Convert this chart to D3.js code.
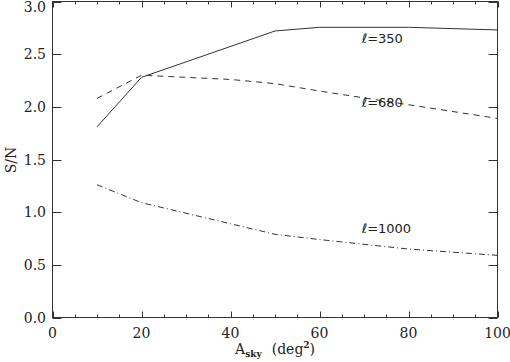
<!DOCTYPE html>
<html>
<head>
<meta charset="utf-8">
<script src="https://cdn.jsdelivr.net/npm/d3@7"></script>
<style>
  body { margin: 0; background: #fff; }
  svg { display: block; }
</style>
</head>
<body>
<div id="chart"></div>
<script>
// S/N vs sky area for three multipoles
const areas350 = [10, 20, 50, 60, 80, 100];
const sn350 = [1.81, 2.28, 2.72, 2.755, 2.755, 2.73];

const areas680 = [10, 20, 30, 40, 50, 60, 80, 100];
const sn680 = [2.08, 2.30, 2.28, 2.26, 2.22, 2.15, 2.02, 1.89];

const areas1000 = [10, 20, 30, 40, 50, 60, 80, 100];
const sn1000 = [1.26, 1.09, 0.99, 0.89, 0.79, 0.74, 0.65, 0.59];

const labels = ['\u2113=350', '\u2113=680', '\u2113=1000'];
const labelPos = [[69.5, 2.61], [69.5, 2.00], [69.5, 0.80]];

const xTicks = [0, 20, 40, 60, 80, 100];
const yTicks = [0.0, 0.5, 1.0, 1.5, 2.0, 2.5, 3.0];

const width = 510, height = 362;
const pLeft = 52.5, pRight = 497.5, pTop = 1.5, pBottom = 317.5;
const ink = '#333';

const svg = d3.select('#chart').append('svg')
    .attr('width', width)
    .attr('height', height);

const x = d3.scaleLinear().domain([0, 100]).range([pLeft, pRight]);
const y = d3.scaleLinear().domain([0, 3]).range([pBottom, pTop]);

// frame
svg.append('rect')
    .attr('x', pLeft).attr('y', pTop)
    .attr('width', pRight - pLeft).attr('height', pBottom - pTop)
    .attr('fill', 'none').attr('stroke', ink).attr('stroke-width', 1);

const minor = d3.range(0, 101, 5);

// x ticks bottom and top (inward)
svg.append('g').selectAll('line').data(minor).enter().append('line')
    .attr('x1', d => Math.round(x(d)) + 0.5).attr('x2', d => Math.round(x(d)) + 0.5)
    .attr('y1', pBottom).attr('y2', d => pBottom - (d % 20 === 0 ? 6 : 3))
    .attr('stroke', ink);
svg.append('g').selectAll('line').data(minor).enter().append('line')
    .attr('x1', d => Math.round(x(d)) + 0.5).attr('x2', d => Math.round(x(d)) + 0.5)
    .attr('y1', pTop).attr('y2', d => pTop + (d % 20 === 0 ? 6 : 3))
    .attr('stroke', ink);

// y ticks left and right (inward)
svg.append('g').selectAll('line').data(yTicks).enter().append('line')
    .attr('y1', d => Math.round(y(d)) + 0.5).attr('y2', d => Math.round(y(d)) + 0.5)
    .attr('x1', pLeft).attr('x2', pLeft + 9)
    .attr('stroke', ink);
svg.append('g').selectAll('line').data(yTicks).enter().append('line')
    .attr('y1', d => Math.round(y(d)) + 0.5).attr('y2', d => Math.round(y(d)) + 0.5)
    .attr('x1', pRight).attr('x2', pRight - 9)
    .attr('stroke', ink);

// tick labels
svg.append('g').selectAll('text').data(xTicks).enter().append('text')
    .attr('x', d => x(d)).attr('y', 338)
    .attr('text-anchor', 'middle')
    .attr('font-family', 'DejaVu Serif').attr('font-size', 14)
    .attr('fill', '#222')
    .text(d => d);

svg.append('g').selectAll('text').data(yTicks).enter().append('text')
    .attr('x', 46).attr('y', d => Math.max(y(d), 7))
    .attr('dy', '0.36em')
    .attr('text-anchor', 'end')
    .attr('font-family', 'DejaVu Serif').attr('font-size', 14)
    .attr('fill', '#222')
    .text(d => d.toFixed(1));

// axis titles
svg.append('text')
    .attr('transform', 'translate(16,160) rotate(-90)')
    .attr('text-anchor', 'middle')
    .attr('font-family', 'DejaVu Serif').attr('font-size', 14)
    .attr('fill', '#222')
    .text('S/N');

const xt = svg.append('text')
    .attr('x', 235).attr('y', 354)
    .attr('font-family', 'DejaVu Serif').attr('font-size', 14)
    .attr('fill', '#222');
xt.append('tspan').text('A');
xt.append('tspan').attr('dy', 3).attr('font-size', 9).attr('font-weight', 'bold').text('sky');
xt.append('tspan').attr('dy', -3).attr('dx', 10).text('(deg');
xt.append('tspan').attr('dy', -6).attr('font-size', 9).attr('font-weight', 'bold').text('2');
xt.append('tspan').attr('dy', 6).text(')');

// series
const series = [
    { xs: areas350, ys: sn350, dash: null },
    { xs: areas680, ys: sn680, dash: '6,5' },
    { xs: areas1000, ys: sn1000, dash: '6,3,1,3' }
];

const line = d3.line().x(d => x(d[0])).y(d => y(d[1]));

series.forEach(s => {
    svg.append('path')
        .datum(d3.zip(s.xs, s.ys))
        .attr('d', line)
        .attr('fill', 'none')
        .attr('stroke', ink)
        .attr('stroke-width', 1)
        .attr('stroke-dasharray', s.dash);
});

// line labels
svg.append('g').selectAll('text').data(labels).enter().append('text')
    .attr('x', (d, i) => x(labelPos[i][0]))
    .attr('y', (d, i) => y(labelPos[i][1]))
    .attr('font-family', 'DejaVu Sans').attr('font-size', 13)
    .attr('fill', '#222')
    .text(d => d);
</script>
</body>
</html>
